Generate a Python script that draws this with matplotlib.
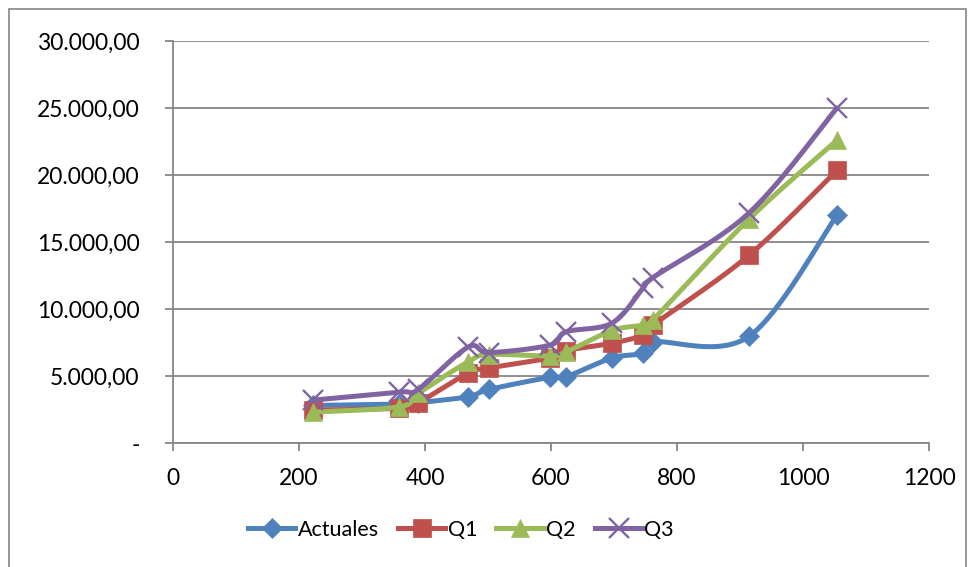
import numpy as np
import matplotlib
matplotlib.use('Agg')
import matplotlib.pyplot as plt
from matplotlib.lines import Line2D
from matplotlib.patches import Rectangle
from matplotlib.ticker import FuncFormatter

plt.rcParams['font.family'] = ['Lato', 'DejaVu Sans']

# tamaño de muestra y valores de cada serie
x = [222, 359, 389, 468, 502, 598, 624, 697, 746, 762, 914, 1054]
actuales = [2800, 2900, 3000, 3450, 4000, 4900, 4950, 6350, 6700, 7550, 7950, 17000]
q1 = [2450, 2600, 3000, 5200, 5600, 6350, 6900, 7450, 8050, 8800, 14000, 20350]
q2 = [2300, 2700, 3700, 6050, 6600, 6500, 6800, 8400, 8800, 9200, 16700, 22600]
q3 = [3200, 3800, 4000, 7150, 6750, 7300, 8300, 8950, 11550, 12350, 17150, 25000]

series = [('Actuales', actuales, '#4F81BD', 'D'),
          ('Q1', q1, '#C0504D', 's'),
          ('Q2', q2, '#9BBB59', '^'),
          ('Q3', q3, '#8064A2', 'x')]

grid_col = '#868686'


def smooth(xs, ys, n=30):
    # curva suavizada tipo Excel (Bezier con puntos de control de Catmull-Rom)
    p = np.column_stack([xs, ys]).astype(float)
    out = [p[0]]
    for i in range(len(p) - 1):
        p0 = p[i - 1] if i > 0 else p[i]
        p1, p2 = p[i], p[i + 1]
        p3 = p[i + 2] if i + 2 < len(p) else p[i + 1]
        c1 = p1 + (p2 - p0) / 6
        c2 = p2 - (p3 - p1) / 6
        t = np.linspace(0, 1, n)[1:, None]
        seg = (1 - t) ** 3 * p1 + 3 * (1 - t) ** 2 * t * c1 + 3 * (1 - t) * t ** 2 * c2 + t ** 3 * p2
        out.extend(seg)
    out = np.array(out)
    return out[:, 0], out[:, 1]


def fmt(v, pos):
    if v == 0:
        return '-'
    s = f'{v:,.2f}'
    return s.replace(',', '_').replace('.', ',').replace('_', '.')


fig = plt.figure(figsize=(9.72, 5.67), dpi=100)
ax = fig.add_axes([173 / 972, 1 - 443 / 567, (929 - 173) / 972, (443 - 41) / 567])

sizes = {'D': 10.5, 's': 13, '^': 13.5, 'x': 14}

handles = []
for k, (name, ys, col, mk) in enumerate(series):
    sx, sy = smooth(x, ys)
    ax.plot(sx, sy, color=col, lw=3.6, solid_capstyle='round', zorder=3 + k)
    if mk == 'x':
        kw = dict(marker='x', ms=sizes[mk], mew=1.7, mec=col)
    else:
        kw = dict(marker=mk, ms=sizes[mk], mfc=col, mec=col, mew=0.5)
    ax.plot(x, ys, ls='none', zorder=3 + k, **kw)
    handles.append(Line2D([], [], color=col, lw=3.6, **kw))

ax.set_xlim(0, 1200)
ax.set_ylim(0, 30000)
ax.set_xticks(range(0, 1201, 200))
ax.set_yticks(range(0, 30001, 5000))
ax.yaxis.set_major_formatter(FuncFormatter(fmt))
ax.grid(axis='y', color=grid_col, lw=1.3)
ax.set_axisbelow(True)
for s in ['top', 'right']:
    ax.spines[s].set_visible(False)
for s in ['left', 'bottom']:
    ax.spines[s].set_color(grid_col)
    ax.spines[s].set_linewidth(1.3)
ax.tick_params(direction='out', length=6, width=1.3, color=grid_col,
               labelsize=16.5, labelcolor='black')
ax.tick_params(axis='y', pad=18)
ax.tick_params(axis='x', pad=12)

fig.legend(handles, [s[0] for s in series], loc='center',
           bbox_to_anchor=(461 / 972, 1 - 530 / 567), ncol=4, frameon=False,
           fontsize=15.5, handlelength=2.2, handletextpad=0.1, columnspacing=0.9,
           borderpad=0, borderaxespad=0)

# borde del área del gráfico
fig.patches.append(Rectangle((9 / 972, -0.01), (966 - 9) / 972, 1 - 9 / 567 + 0.01,
                             transform=fig.transFigure, fill=False,
                             edgecolor=grid_col, lw=1.2))

fig.savefig('out.png', dpi=100)
